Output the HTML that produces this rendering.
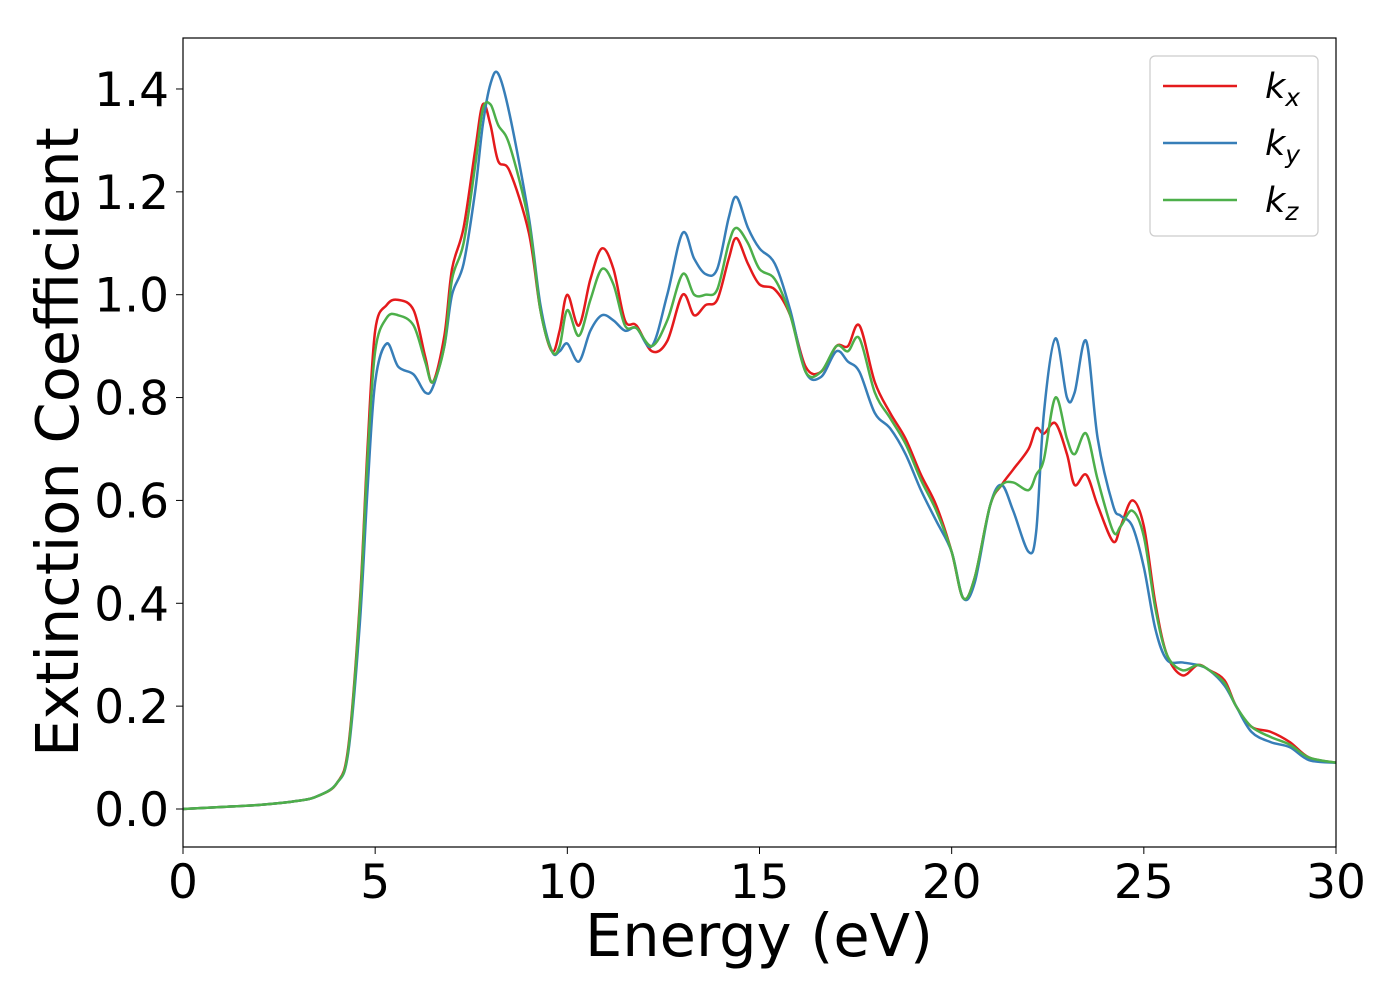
<!DOCTYPE html>
<html><head><meta charset="utf-8"><style>
html,body{margin:0;padding:0;background:#fff}
svg text{font-family:"DejaVu Sans","Liberation Sans",sans-serif;fill:#000}
</style></head><body>
<svg id="chart" width="1400" height="1000" xmlns="http://www.w3.org/2000/svg">
<rect x="0" y="0" width="1400" height="1000" fill="#fff"/>
<g id="ticks"></g>
<g id="lines"></g>
<rect x="183" y="38" width="1153" height="809" fill="none" stroke="#000" stroke-width="1.2"/>
<text x="759" y="956" font-size="59" text-anchor="middle">Energy (eV)</text>
<text transform="translate(78,442) rotate(-90)" font-size="59" text-anchor="middle">Extinction Coefficient</text>
<g>
<rect x="1150" y="56" width="168" height="180" rx="5" fill="#fff" stroke="#ccc" stroke-width="1.2"/>
<line x1="1163" y1="86" x2="1237" y2="86" stroke="#e41a1c" stroke-width="2.5"/>
<text x="1265" y="98" font-size="35" font-style="italic">k<tspan font-size="25" dy="8">x</tspan></text>
<line x1="1163" y1="143" x2="1237" y2="143" stroke="#377eb8" stroke-width="2.5"/>
<text x="1265" y="155" font-size="35" font-style="italic">k<tspan font-size="25" dy="8">y</tspan></text>
<line x1="1163" y1="200" x2="1237" y2="200" stroke="#4daf4a" stroke-width="2.5"/>
<text x="1265" y="212" font-size="35" font-style="italic">k<tspan font-size="25" dy="8">z</tspan></text>
</g>
</svg>
<script>
const energy=[0,1,2,3,3.5,4,4.3,4.6,4.8,5,5.3,5.6,6,6.3,6.5,6.8,7,7.3,7.6,7.8,8,8.2,8.5,9,9.3,9.6,9.8,10,10.3,10.6,10.9,11.2,11.5,11.8,12.2,12.6,13,13.3,13.6,13.9,14.2,14.4,14.7,15,15.4,15.8,16.2,16.6,17,17.3,17.6,18,18.4,18.8,19.2,19.6,20,20.3,20.6,21,21.3,21.6,22,22.2,22.4,22.7,23,23.2,23.5,23.8,24.2,24.4,24.7,25,25.3,25.6,26,26.4,26.7,27.1,27.4,27.8,28.3,28.8,29.3,30];
const kx=[0,.004,.008,.016,.025,.05,.12,.4,.7,.93,.98,.99,.97,.88,.83,.92,1.05,1.13,1.28,1.37,1.33,1.26,1.24,1.12,.97,.89,.93,1.0,.94,1.03,1.09,1.05,.95,.94,.89,.91,1.0,.96,.98,.99,1.07,1.11,1.06,1.02,1.01,.96,.86,.85,.9,.9,.94,.83,.77,.72,.65,.59,.5,.41,.45,.59,.63,.66,.7,.74,.73,.75,.69,.63,.65,.59,.52,.55,.6,.55,.4,.3,.26,.28,.27,.25,.2,.16,.15,.13,.1,.09];
const ky=[0,.004,.008,.016,.025,.05,.11,.36,.62,.83,.905,.86,.845,.81,.82,.9,1.0,1.06,1.2,1.33,1.41,1.43,1.35,1.15,.98,.89,.89,.905,.87,.93,.96,.95,.93,.935,.9,1.0,1.12,1.07,1.04,1.05,1.15,1.19,1.13,1.09,1.06,.97,.85,.84,.89,.87,.85,.77,.74,.69,.62,.56,.5,.41,.44,.59,.63,.58,.5,.54,.77,.915,.8,.81,.91,.72,.59,.57,.55,.47,.35,.29,.285,.28,.27,.24,.2,.15,.13,.12,.095,.09];
const kz=[0,.004,.008,.016,.025,.05,.115,.39,.68,.89,.955,.96,.94,.87,.83,.9,1.03,1.1,1.25,1.36,1.37,1.33,1.29,1.14,.97,.89,.9,.97,.92,.99,1.05,1.02,.94,.935,.9,.95,1.04,1.0,1.0,1.01,1.1,1.13,1.1,1.05,1.03,.96,.85,.85,.9,.89,.915,.81,.76,.71,.64,.58,.5,.41,.45,.59,.63,.635,.62,.65,.68,.8,.72,.69,.73,.64,.54,.55,.58,.53,.39,.3,.27,.28,.27,.245,.2,.16,.14,.125,.1,.09];
const xTicks=[0,5,10,15,20,25,30];
const yTicks=[0,0.2,0.4,0.6,0.8,1.0,1.2,1.4];
const NS="http://www.w3.org/2000/svg";
function X(v){return 183+v*(1153/30);}
function Y(v){return 809-v*514.3;}
const tg=document.getElementById('ticks');
xTicks.forEach(t=>{
  const l=document.createElementNS(NS,'line');
  
  
  l.setAttribute('x1',X(t));l.setAttribute('x2',X(t));l.setAttribute('y1',847);l.setAttribute('y2',854);l.setAttribute('stroke','#000');
  tg.appendChild(l);
  const tx=document.createElementNS(NS,'text');
  
  
  tx.setAttribute('x',X(t));tx.setAttribute('y',898);tx.setAttribute('font-size','47');tx.setAttribute('text-anchor','middle');
  tx.textContent=String(t);tg.appendChild(tx);
});
yTicks.forEach(t=>{
  const l=document.createElementNS(NS,'line');
  
  
  l.setAttribute('x1',176);l.setAttribute('x2',183);l.setAttribute('y1',Y(t));l.setAttribute('y2',Y(t));l.setAttribute('stroke','#000');
  tg.appendChild(l);
  const tx=document.createElementNS(NS,'text');
  
  
  tx.setAttribute('x',169);tx.setAttribute('y',Y(t)+17);tx.setAttribute('font-size','47');tx.setAttribute('text-anchor','end');
  tx.textContent=t.toFixed(1);tg.appendChild(tx);
});
function path(xs,ys){
  const p=xs.map((x,i)=>[X(x),Y(ys[i])]);
  let d='M'+p[0][0]+','+p[0][1];
  for(let i=0;i<p.length-1;i++){
    const p0=p[Math.max(i-1,0)],p1=p[i],p2=p[i+1],p3=p[Math.min(i+2,p.length-1)];
    const c1=[p1[0]+(p2[0]-p0[0])/6,p1[1]+(p2[1]-p0[1])/6];
    const c2=[p2[0]-(p3[0]-p1[0])/6,p2[1]-(p3[1]-p1[1])/6];
    d+=' C'+c1.join(',')+' '+c2.join(',')+' '+p2.join(',');
  }
  return d;
}
const lg=document.getElementById('lines');
[[kx,'#e41a1c','series-kx'],[ky,'#377eb8','series-ky'],[kz,'#4daf4a','series-kz']].forEach(s=>{
  const e=document.createElementNS(NS,'path');
  
  
  e.setAttribute('d',path(energy,s[0]));e.setAttribute('fill','none');e.setAttribute('stroke',s[1]);e.setAttribute('stroke-width','2.5');
  lg.appendChild(e);
});
</script>
</body></html>
